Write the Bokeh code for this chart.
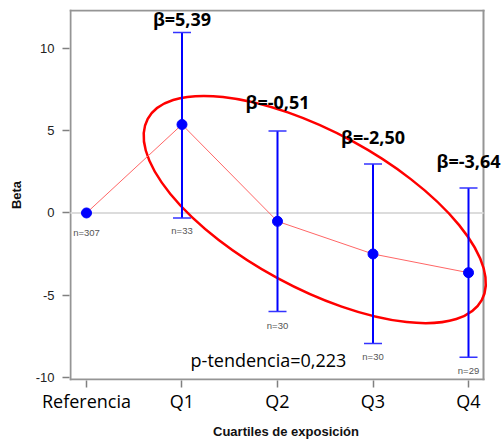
from bokeh.plotting import figure
from bokeh.models import (ColumnDataSource, Range1d, FixedTicker, Whisker, TeeHead,
                          LabelSet, Label)
from bokeh.core.properties import value
from bokeh.embed import file_html
from bokeh.resources import INLINE

categories = ["Referencia", "Q1", "Q2", "Q3", "Q4"]
beta = [0.0, 5.39, -0.51, -2.50, -3.64]
ci_lower = [0.0, -0.3, -6.0, -7.96, -8.8]
ci_upper = [0.0, 11.0, 5.0, 2.98, 1.52]
n_labels = ["n=307", "n=33", "n=30", "n=30", "n=29"]
beta_labels = ["β=5,39", "β=-0,51", "β=-2,50", "β=-3,64"]
beta_label_y = [11.8, 6.75, 4.6, 3.15]
p_trend = "p-tendencia=0,223"
y_ticks = [-10, -5, 0, 5, 10]

xs = list(range(len(categories)))

# plotting box (the grey frame); the bokeh frame extends further right so texts are not clipped
box_left, box_right, box_bottom, box_top = -0.1675, 4.157, -10.15, 12.34

p = figure(width=502, height=441, output_backend="svg", toolbar_location=None,
           x_range=Range1d(-0.178, 4.356), y_range=Range1d(-10.21, 12.40),
           min_border_left=69, min_border_right=0, min_border_top=9, min_border_bottom=60)
p.grid.visible = False
p.background_fill_color = "white"
p.outline_line_color = None

# axes
p.xaxis.ticker = FixedTicker(ticks=xs)
p.xaxis.major_label_overrides = {i: c for i, c in zip(xs, categories)}
p.yaxis.ticker = FixedTicker(ticks=y_ticks)
p.yaxis.major_label_overrides = {t: str(t) for t in y_ticks}
for ax in (p.xaxis[0], p.yaxis[0]):
    ax.axis_line_color = None
    ax.major_tick_line_color = "#808080"
    ax.major_tick_line_width = 1.5
    ax.major_tick_out = 7
    ax.major_tick_in = 0
    ax.minor_tick_line_color = None
    ax.axis_label_text_font = "Liberation Sans"
    ax.axis_label_text_font_style = "bold"
    ax.axis_label_text_font_size = "13px"
    ax.axis_label_text_color = "#111111"
p.xaxis.axis_label = "Cuartiles de exposición"
p.yaxis.axis_label = "Beta"
p.xaxis.major_label_text_font = "Open Sans"
p.xaxis.major_label_text_font_size = "18px"
p.xaxis.major_label_text_color = "black"
p.xaxis.major_label_standoff = 1
p.xaxis.axis_label_standoff = 8
p.yaxis.major_label_text_font = "Liberation Sans"
p.yaxis.major_label_text_font_size = "13px"
p.yaxis.major_label_text_color = "#222222"
p.yaxis.major_label_standoff = 8
p.yaxis.axis_label_standoff = 9

# grey frame box: four edges
frame_src = ColumnDataSource(dict(
    x0=[box_left, box_right, box_right, box_left],
    y0=[box_bottom, box_bottom, box_top, box_top],
    x1=[box_right, box_right, box_left, box_left],
    y1=[box_bottom, box_top, box_top, box_bottom]))
p.segment(x0="x0", y0="y0", x1="x1", y1="y1", source=frame_src,
          line_color="#959595", line_width=2, line_cap="square")

# zero line (inside the box only)
p.segment(x0=[box_left], y0=[0], x1=[box_right], y1=[0], line_color="#dcdcdc", line_width=2)

# highlight ellipse (center in data units, size in screen px)
ell_x, ell_y = 2.39, 0.21
p.ellipse(x=[ell_x], y=[ell_y], width=380, height=156, angle=-0.497,
          width_units="screen", height_units="screen",
          fill_color=None, line_color="red", line_width=2.5)

# connecting line
p.line(xs, beta, line_color="#ff6666", line_width=1)

# error bars (quartiles only)
eb = ColumnDataSource(dict(x=xs[1:], lower=ci_lower[1:], upper=ci_upper[1:]))
p.add_layout(Whisker(source=eb, base="x", lower="lower", upper="upper",
                     line_color="blue", line_width=2, level="glyph",
                     upper_head=TeeHead(size=18, line_color="#3333ff", line_width=1.5),
                     lower_head=TeeHead(size=18, line_color="#3333ff", line_width=1.5)))

p.scatter(xs, beta, size=10, fill_color="blue", line_color="blue")

# n labels
n_src = ColumnDataSource(dict(x=xs, y=ci_lower, t=n_labels, off=[-20, -13, -14, -13, -13]))
p.add_layout(LabelSet(source=n_src, x="x", y="y", text="t", y_offset="off",
                      text_align="center", text_baseline="middle",
                      text_font=value("Liberation Sans"), text_font_size="9.5px",
                      text_color="#555555"))

# beta labels
b_src = ColumnDataSource(dict(x=xs[1:], y=beta_label_y, t=beta_labels))
p.add_layout(LabelSet(source=b_src, x="x", y="y", text="t",
                      text_align="center", text_baseline="middle",
                      text_font=value("Open Sans"), text_font_style="bold",
                      text_font_size="18px", text_color="black"))

p.add_layout(Label(x=1.09, y=-8.94, text=p_trend, text_align="left",
                   text_baseline="middle", text_font="Open Sans",
                   text_font_size="18px", text_color="black"))

open("out.html", "w").write(file_html(p, INLINE))
